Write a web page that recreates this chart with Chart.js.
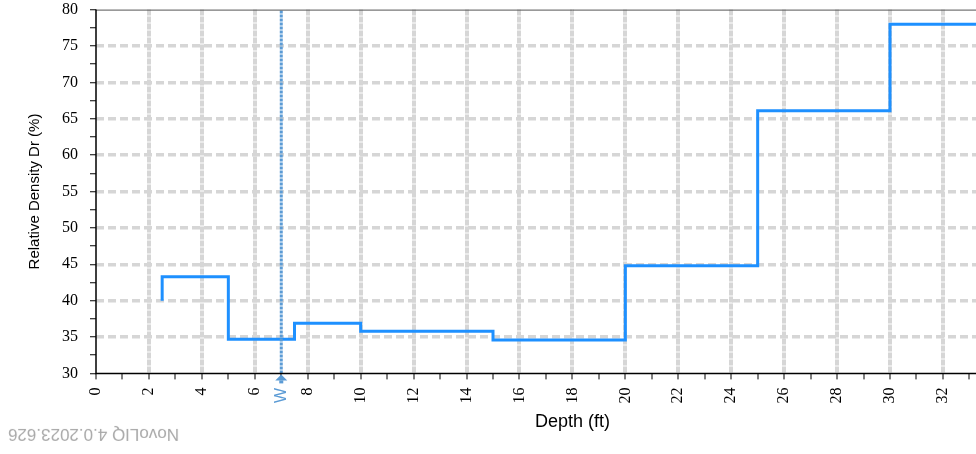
<!DOCTYPE html>
<html>
<head>
<meta charset="utf-8">
<script src="https://cdn.jsdelivr.net/npm/chart.js@4.4.0/dist/chart.umd.min.js"></script>
<style>
  html, body { margin: 0; padding: 0; background: #fff; overflow: hidden; }
  #wrap { position: relative; width: 1076px; height: 454px; overflow: hidden; }
  #densityChart { position: absolute; left: 0; top: -12px; }
  #stamp {
    position: absolute; left: 8px; top: 424px;
    font-family: "Liberation Sans", Arial, sans-serif; font-size: 17px;
    color: #a8a8a8; transform: rotate(180deg); white-space: nowrap;
  }
</style>
</head>
<body>
<div id="wrap">
  <canvas id="densityChart" width="1076" height="464"></canvas>
  <div id="stamp">NovoLIQ 4.0.2023.626</div>
</div>
<script>
// step profile: depth (ft) and relative density Dr (%)
const depthPts = [2.5, 2.5, 5, 7.5, 10, 15, 20, 25, 30, 36];
const drPts = [40, 43.3, 34.7, 36.9, 35.8, 34.6, 44.8, 66.1, 78.0, 78.0];

// water table marker
const waterDepth = 7;
const waterLabel = 'W';

const xMin = 0, xMax = 36;
const yMin = 30, yMax = 80;

// axis frame + marker arrow/label under the axis
const framePlugin = {
    id: 'framePlugin',
    afterDatasetsDraw(chart) {
        const { ctx, chartArea, scales } = chart;
        const { left, right, top, bottom } = chartArea;
        ctx.save();
        ctx.strokeStyle = '#555';
        ctx.lineWidth = 1;
        ctx.beginPath();
        ctx.moveTo(left, top + 0.5);
        ctx.lineTo(right, top + 0.5);
        ctx.stroke();

        ctx.strokeStyle = '#000';
        ctx.lineWidth = 1.5;
        ctx.beginPath();
        ctx.moveTo(left, top);
        ctx.lineTo(left, bottom);
        ctx.lineTo(right, bottom);
        ctx.stroke();

        const x = scales.x.getPixelForValue(waterDepth);
        ctx.fillStyle = '#5b9bd5';
        ctx.beginPath();
        ctx.moveTo(x, bottom + 1);
        ctx.lineTo(x - 6, bottom + 7);
        ctx.lineTo(x + 6, bottom + 7);
        ctx.closePath();
        ctx.fill();
        ctx.fillRect(x - 2, bottom + 7, 4, 3);

        ctx.translate(x, bottom + 22);
        ctx.rotate(-Math.PI / 2);
        ctx.font = '16px "Liberation Sans", Arial, sans-serif';
        ctx.textAlign = 'center';
        ctx.textBaseline = 'middle';
        ctx.fillText(waterLabel, 0, 0);
        ctx.restore();
    }
};

new Chart('densityChart', {
    type: 'line',
    data: {
        datasets: [{
            label: 'water',
            data: [{ x: waterDepth, y: yMin }, { x: waterDepth, y: yMax }],
            borderColor: '#5b9bd5',
            borderWidth: 3,
            borderDash: [3, 1],
            pointRadius: 0
        }, {
            label: 'Dr',
            data: depthPts.map((d, i) => ({ x: d, y: drPts[i] })),
            borderColor: '#1e90ff',
            borderWidth: 3,
            stepped: 'before',
            pointRadius: 0,
            tension: 0
        }]
    },
    options: {
        responsive: false,
        animation: false,
        layout: { padding: { top: 0, right: 10, left: 0, bottom: 0 } },
        plugins: { legend: { display: false }, tooltip: { enabled: false } },
        scales: {
            x: {
                type: 'linear',
                min: xMin,
                max: xMax,
                border: { display: false, dash: [6, 1] },
                grid: {
                    color: ctx => (ctx.tick && ctx.tick.value % 2 === 0 && ctx.tick.value > xMin) ? '#d6d6d6' : 'transparent',
                    lineWidth: 4,
                    tickColor: '#000',
                    tickWidth: 1,
                    tickLength: 6
                },
                ticks: {
                    stepSize: 1,
                    autoSkip: false,
                    maxRotation: 90,
                    minRotation: 90,
                    padding: 8,
                    color: '#000',
                    font: { family: '"Liberation Serif", serif', size: 16 },
                    callback: v => (v % 2 === 0 ? v : '')
                },
                title: {
                    display: true,
                    text: 'Depth (ft)',
                    color: '#000',
                    font: { family: '"Liberation Sans", Arial, sans-serif', size: 18 },
                    padding: { top: 0, bottom: 19 }
                }
            },
            y: {
                min: yMin,
                max: yMax,
                border: { display: false, dash: [8, 4] },
                grid: {
                    color: ctx => {
                        const v = ctx.tick && ctx.tick.value;
                        return (v % 5 === 0 && v > yMin && v < yMax) ? '#d6d6d6' : 'transparent';
                    },
                    lineWidth: 3.5,
                    tickColor: '#000',
                    tickWidth: 1,
                    tickLength: 6
                },
                ticks: {
                    stepSize: 2.5,
                    autoSkip: false,
                    padding: 12,
                    color: '#000',
                    font: { family: '"Liberation Serif", serif', size: 16 },
                    callback: v => (v % 5 === 0 ? v : '')
                },
                title: {
                    display: true,
                    text: 'Relative Density Dr (%)',
                    color: '#000',
                    font: { family: '"Liberation Sans", Arial, sans-serif', size: 15 },
                    padding: { top: 26, bottom: 6 }
                }
            }
        }
    },
    plugins: [framePlugin]
});
</script>
</body>
</html>
